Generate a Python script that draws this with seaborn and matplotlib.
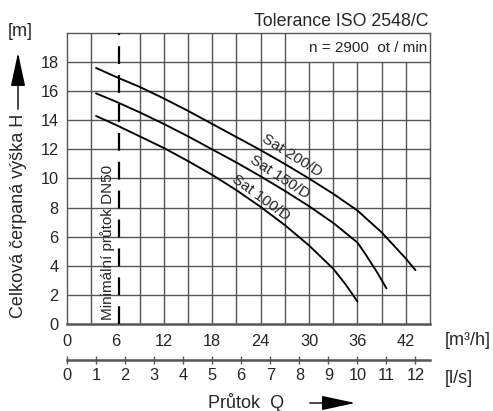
import numpy as np
import pandas as pd
import matplotlib
matplotlib.use("Agg")
import matplotlib.pyplot as plt
import seaborn as sns

# ---- data ----
q_200 = [3.6, 6, 9, 12, 15, 18, 21, 24, 27, 30, 33, 36, 39, 42, 43.2]
h_200 = [17.6, 17.0, 16.3, 15.5, 14.65, 13.75, 12.85, 11.95, 11.0, 10.0, 8.95, 7.8, 6.3, 4.5, 3.7]
q_150 = [3.6, 6, 9, 12, 15, 18, 21, 24, 27, 30, 33, 36, 37, 38.5, 39.6]
h_150 = [15.85, 15.3, 14.55, 13.75, 12.9, 12.0, 11.1, 10.15, 9.15, 8.1, 6.95, 5.6, 4.8, 3.5, 2.45]
q_100 = [3.6, 6, 9, 12, 15, 18, 21, 24, 27, 30, 33, 34.5, 36]
h_100 = [14.3, 13.7, 12.9, 12.1, 11.2, 10.25, 9.2, 8.05, 6.8, 5.4, 3.8, 2.75, 1.55]
pump_names = ["Sat 200/D", "Sat 150/D", "Sat 100/D"]

x_ticks_m3h = [0, 6, 12, 18, 24, 30, 36, 42]
x_ticks_ls = list(range(0, 13))
y_ticks = [0, 2, 4, 6, 8, 10, 12, 14, 16, 18]
min_flow_m3h = 6.45

title_text = "Tolerance ISO 2548/C"
speed_text = "n = 2900  ot / min"
min_flow_text = "Minimální průtok DN50"
ylabel_text = "Celková čerpaná výška H"
xlabel_text = "Průtok  Q"

df = pd.concat([
    pd.DataFrame({"Q": q_200, "H": h_200, "pump": pump_names[0]}),
    pd.DataFrame({"Q": q_150, "H": h_150, "pump": pump_names[1]}),
    pd.DataFrame({"Q": q_100, "H": h_100, "pump": pump_names[2]}),
], ignore_index=True)

sns.set_style("white")
plt.rcParams["font.family"] = ["Liberation Sans", "DejaVu Sans"]

W, H = 493, 411
fig = plt.figure(figsize=(W / 100, H / 100), dpi=100)
ax = fig.add_axes([67 / W, 87 / H, 363 / W, 291 / H])

gc = "#555555"
ax.set_xlim(0, 45)
ax.set_ylim(0, 20)

# grid drawn manually (box at top right interrupts it)
for x in np.arange(3, 45, 3):
    if x == 6:
        continue
    ymax = 0.9 if 30 <= x <= 42 else 1.0
    ax.axvline(x, ymin=0, ymax=ymax, color=gc, lw=1.0, zorder=1)
for y in np.arange(2, 20, 2):
    ax.axhline(y, color=gc, lw=1.0, zorder=1)

sns.lineplot(data=df, x="Q", y="H", hue="pump", units="pump", estimator=None,
             palette={p: "black" for p in pump_names}, legend=False,
             lw=1.35, sort=False, ax=ax, zorder=4)
for ln in ax.lines[-3:]:
    ln.set_solid_joinstyle("round")

# minimum flow line
ax.axvline(min_flow_m3h, color="black", lw=1.6, linestyle=(0, (8, 5)), zorder=3)
ax.text(5.0, 0.25, min_flow_text, rotation=90, ha="center", va="bottom",
        fontsize=11, zorder=5)

# curve labels
ax.text(27.9, 11.6, pump_names[0], rotation=-32, ha="center", va="center",
        fontsize=11, rotation_mode="anchor", zorder=5)
ax.text(26.4, 10.1, pump_names[1], rotation=-33, ha="center", va="center",
        fontsize=11, rotation_mode="anchor", zorder=5)
ax.text(24.0, 8.65, pump_names[2], rotation=-36, ha="center", va="center",
        fontsize=11, rotation_mode="anchor", zorder=5)

ax.text(44.6, 19.0, speed_text, ha="right", va="center", fontsize=11)
ax.text(0.9945, 1.024, title_text, transform=ax.transAxes, ha="right",
        va="baseline", fontsize=12.8)

# spines / ticks
for s in ax.spines.values():
    s.set_color(gc)
    s.set_linewidth(1.0)
ax.spines["bottom"].set_linewidth(1.8)

ax.set_xticks(x_ticks_m3h)
ax.set_xticks(np.arange(3, 46, 6), minor=True)
ax.set_yticks(y_ticks + [20])
ax.set_yticklabels([str(v) for v in y_ticks] + [""])
ax.tick_params(axis="both", which="both", direction="out", length=4,
               width=1.0, color=gc, labelsize=11.8, pad=2)
ax.tick_params(axis="x", which="major", pad=3)
ax.set_xlabel("")
ax.set_ylabel("")

# secondary axis in l/s
sec = ax.secondary_xaxis(-36 / 291, functions=(lambda q: q / 3.6, lambda l: l * 3.6))
sec.set_xticks(x_ticks_ls)
sec.tick_params(direction="inout", length=6, width=1.0, color=gc,
                labelsize=11.8, pad=3)
sec.spines["bottom"].set_color(gc)
sec.spines["bottom"].set_linewidth(1.8)

ax.text(1.041, -16 / 291, "[m³/h]", transform=ax.transAxes, ha="left",
        va="center", fontsize=13)
ax.text(1.041, -54 / 291, "[l/s]", transform=ax.transAxes, ha="left",
        va="center", fontsize=13)

# y label + arrow
fig.text(19 / W, 1 - 215.5 / H, ylabel_text, rotation=90, ha="center",
         va="center", fontsize=13)
fig.text(20 / W, 1 - 31 / H, "[m]", ha="center", va="center", fontsize=13)
fig.patches.append(matplotlib.patches.FancyArrowPatch(
    (18 / W, 1 - 112 / H), (18 / W, 1 - 50 / H), transform=fig.transFigure,
    arrowstyle="-|>,head_length=1.4,head_width=0.3", mutation_scale=15,
    color="black", lw=1.0))

# x label + arrow
fig.text(208 / W, 1 - 408 / H, xlabel_text, ha="left", va="baseline",
         fontsize=13)
fig.patches.append(matplotlib.patches.FancyArrowPatch(
    (307 / W, 1 - 403 / H), (358 / W, 1 - 403 / H), transform=fig.transFigure,
    arrowstyle="-|>,head_length=1.4,head_width=0.3", mutation_scale=15,
    color="black", lw=1.0))

fig.savefig("out.png", dpi=100)
